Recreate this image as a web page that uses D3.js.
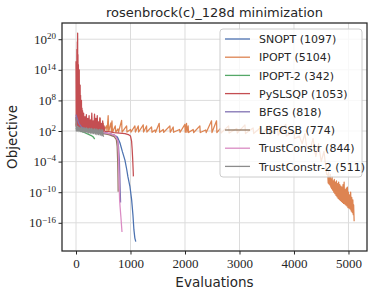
<!DOCTYPE html>
<html>
<head>
<meta charset="utf-8">
<script src="https://cdn.jsdelivr.net/npm/d3@7"></script>
<style>
  html, body { margin: 0; padding: 0; background: #fff; }
  #chart { width: 374px; height: 295px; }
  .grid-line { stroke: #dcdcdc; stroke-width: 1; }
</style>
</head>
<body>
<div id="chart"></div>
<script>
// values: [evaluations, log10(objective)]
const snopt = [[0,4.8],[10,4.0],[30,3.2],[60,2.6],[100,2.3],[200,2.0],[300,1.9],[400,1.8],[500,1.7],[600,1.5],[700,1.2],[760,0.8],[806,-0.3],[850,-2.0],[898,-3.7],[930,-5.5],[953,-7.0],[990,-8.9],[1021,-11.5],[1045,-14.5],[1063,-17.4],[1080,-19.0],[1097,-19.7]];

const ipopt = [[0,3.5],[20,2.2],[60,2.5],[100,2.0],[150,2.6],[200,2.0],[250,2.4],[300,1.9],[350,2.8],[400,2.0],[440,4.5],[450,2.0],[500,3.5],[510,2.0],[560,3.0],[570,1.9],[590,5.0],[600,1.9],[640,3.6],[650,1.9],[660,4.0],[670,1.8],[720,3.0],[730,1.8],[770,2.4],[780,1.8],[837,4.1],[845,1.8],[929,3.0],[935,1.8],[1000,2.3],[1010,1.8],[1081,3.0],[1090,1.8],[1142,3.0],[1150,1.8],[1234,3.2],[1240,1.8],[1295,3.0],[1300,1.8],[1386,2.8],[1395,1.75],[1450,2.2],[1460,1.75],[1527,3.5],[1535,1.75],[1600,2.3],[1610,1.75],[1723,3.0],[1730,1.75],[1784,2.8],[1790,1.75],[1900,2.3],[1910,1.75],[1998,3.3],[2005,1.75],[2028,3.5],[2035,1.75],[2058,3.0],[2065,1.7],[2150,2.3],[2160,1.7],[2273,3.0],[2280,1.7],[2380,2.2],[2390,1.7],[2487,4.0],[2495,1.7],[2579,4.0],[2585,1.7],[2650,2.5],[2660,1.6],[2800,3.0],[2810,1.6],[2950,2.5],[2960,1.6],[3100,3.2],[3110,1.5],[3250,2.6],[3260,1.5],[3400,2.8],[3410,1.4],[3550,3.0],[3560,1.3],[3700,2.5],[3710,1.2],[3850,3.3],[3860,1.0],[4000,2.0],[4010,0.5],[4100,1.0],[4150,-0.5],[4200,1.5],[4230,-1.0],[4300,-1.5],[4350,0.5],[4400,-3.0],[4450,-0.5],[4500,-4.0],[4550,-2.0],[4600,-6.5],[4620,-6.5],[4628,-8.2],[4636,-6.0],[4644,-8.4],[4652,-7.0],[4660,-8.6],[4668,-6.5],[4676,-9.0],[4684,-7.5],[4692,-9.3],[4700,-7.0],[4710,-9.6],[4720,-7.8],[4730,-10.0],[4740,-7.5],[4750,-10.3],[4760,-8.0],[4770,-10.6],[4780,-7.8],[4790,-10.9],[4800,-8.3],[4810,-11.2],[4820,-8.0],[4830,-11.4],[4840,-8.5],[4850,-11.6],[4860,-8.8],[4870,-11.8],[4880,-9.0],[4890,-12.0],[4900,-8.5],[4910,-12.2],[4920,-8.0],[4930,-12.3],[4940,-9.5],[4950,-12.5],[4960,-9.2],[4970,-12.7],[4980,-9.0],[4990,-13.0],[5000,-10.0],[5010,-13.1],[5020,-10.5],[5030,-13.3],[5040,-10.0],[5050,-13.7],[5060,-11.0],[5070,-14.0],[5080,-11.5],[5088,-14.4],[5095,-12.5],[5104,-15.7]];

const ipopt2 = [[0,2.6],[30,2.3],[80,2.0],[150,1.7],[220,1.4],[280,1.1],[320,0.8],[342,0.4]];

const pyslsqp = [[0,15.7],[4,3.0],[8,14],[12,3.0],[16,18],[20,3.0],[25,19.5],[28,3.5],[30,21.2],[33,3.0],[36,17],[40,3.0],[44,15],[48,3.0],[52,13],[56,2.8],[60,14],[64,2.6],[68,10],[72,2.6],[76,11],[80,2.5],[84,9],[88,2.4],[92,8],[96,2.4],[100,8],[104,2.3],[110,6.5],[115,2.3],[120,6.0],[130,2.5],[140,5.5],[150,2.3],[165,4.8],[175,2.2],[190,5.2],[200,2.2],[215,4.5],[225,2.1],[240,5.0],[250,2.0],[265,4.2],[275,2.1],[290,5.5],[300,2.0],[315,4.0],[325,2.0],[340,5.3],[350,2.0],[365,4.5],[375,1.9],[390,5.0],[400,1.9],[415,3.8],[425,1.9],[440,4.6],[450,1.9],[465,3.5],[475,1.9],[490,4.0],[500,1.9],[515,3.0],[530,1.9],[600,1.9],[700,1.7],[800,1.6],[900,1.5],[960,1.3],[1000,1.0],[1020,0.0],[1030,-1.5],[1040,-3.5],[1050,-6.0],[1053,-6.9]];

const bfgs = [[0,5.2],[20,4.5],[50,3.5],[100,2.8],[165,2.4],[250,2.1],[350,1.9],[450,1.8],[550,1.6],[650,1.4],[720,1.1],[760,0.5],[780,-1.0],[795,-3.5],[805,-7],[812,-10],[818,-12]];

const lbfgsb = [[0,2.5],[50,2.2],[150,2.0],[300,1.8],[450,1.6],[600,1.3],[700,0.9],[740,0.3],[755,-1.0],[765,-4],[770,-7],[774,-9.9]];

const trustConstr = [[0,3.0],[50,2.4],[150,2.1],[300,1.9],[500,1.7],[650,1.4],[720,1.1],[770,0.0],[780,-3],[790,-8],[800,-11.5],[810,-13],[825,-15],[835,-16.5],[844,-17.8]];

const trustConstr2 = [[0,4.5],[5,2.0],[15,3.0],[25,2.0],[40,2.8],[55,1.9],[70,2.7],[85,1.9],[100,2.7],[115,1.8],[130,2.6],[145,1.8],[160,2.6],[175,1.7],[190,2.6],[205,1.7],[220,2.5],[235,1.6],[250,2.5],[265,1.6],[280,2.5],[295,1.5],[310,2.4],[325,1.5],[340,2.4],[355,1.4],[370,2.4],[385,1.3],[400,2.3],[415,1.3],[430,2.3],[445,1.2],[460,2.3],[475,1.1],[490,2.2],[500,1.0],[511,0.9]];

const seriesNames = ["SNOPT (1097)", "IPOPT (5104)", "IPOPT-2 (342)", "PySLSQP (1053)", "BFGS (818)", "LBFGSB (774)", "TrustConstr (844)", "TrustConstr-2 (511)"];
const seriesData = [snopt, ipopt, ipopt2, pyslsqp, bfgs, lbfgsb, trustConstr, trustConstr2];
const colors = ["#4c72b0", "#dd8452", "#55a868", "#c44e52", "#8172b3", "#937860", "#da8bc3", "#8c8c8c"];

const xTicks = [0, 1000, 2000, 3000, 4000, 5000];
const yTickExps = [-16, -10, -4, 2, 8, 14, 20];

const W = 374, H = 295;
const plot = { left: 62, right: 367, top: 23, bottom: 251 };

const svg = d3.select("#chart").append("svg")
  .attr("width", W)
  .attr("height", H)
  .attr("viewBox", `0 0 ${W} ${H}`);

const x = d3.scaleLinear().domain([-257, 5340]).range([plot.left, plot.right]);
const y = d3.scaleLog().domain([Math.pow(10, -21.53), Math.pow(10, 23.18)]).range([plot.bottom, plot.top]);

// grid
svg.append("g").selectAll("line")
  .data(xTicks).enter().append("line")
  .attr("class", "grid-line")
  .attr("x1", d => x(d)).attr("x2", d => x(d))
  .attr("y1", plot.top).attr("y2", plot.bottom);

svg.append("g").selectAll("line")
  .data(yTickExps).enter().append("line")
  .attr("class", "grid-line")
  .attr("x1", plot.left).attr("x2", plot.right)
  .attr("y1", d => y(Math.pow(10, d))).attr("y2", d => y(Math.pow(10, d)));

// series
svg.append("defs").append("clipPath").attr("id", "clip")
  .append("rect")
  .attr("x", plot.left).attr("y", plot.top)
  .attr("width", plot.right - plot.left).attr("height", plot.bottom - plot.top);

const line = d3.line()
  .x(d => x(d[0]))
  .y(d => y(Math.pow(10, d[1])));

const lines = svg.append("g").attr("clip-path", "url(#clip)");
seriesData.forEach((data, i) => {
  lines.append("path")
    .datum(data)
    .attr("d", line)
    .attr("fill", "none")
    .attr("stroke", colors[i])
    .attr("stroke-width", 1.25)
    .attr("stroke-linejoin", "round");
});

// axes
const tickFont = "'Liberation Serif', 'DejaVu Serif', serif";

const xAxis = svg.append("g")
  .attr("transform", `translate(0, ${plot.bottom})`)
  .call(d3.axisBottom(x).tickValues(xTicks).tickSize(3.5).tickPadding(4).tickFormat(d3.format("d")));
xAxis.select(".domain").remove();
xAxis.selectAll(".tick line").attr("stroke", "#262626").attr("stroke-width", 1);
xAxis.selectAll("text")
  .style("font-family", tickFont)
  .style("font-size", "13px")
  .attr("fill", "#262626");

const yAxis = svg.append("g")
  .attr("transform", `translate(${plot.left}, 0)`)
  .call(d3.axisLeft(y).tickValues(yTickExps.map(e => Math.pow(10, e))).tickSize(3.5).tickPadding(4).tickFormat(""));
yAxis.select(".domain").remove();
yAxis.selectAll(".tick line").attr("stroke", "#262626").attr("stroke-width", 1);
yAxis.selectAll(".tick").each(function(d) {
  const e = Math.round(Math.log10(d));
  const t = d3.select(this).select("text")
    .attr("x", -6)
    .attr("dy", "0.32em")
    .attr("text-anchor", "end")
    .style("font-family", tickFont)
    .style("font-size", "13px")
    .attr("fill", "#262626");
  t.append("tspan").text("10");
  t.append("tspan")
    .attr("dy", "-0.55em")
    .style("font-size", "9px")
    .text(String(e).replace("-", "\u2212"));
});

// frame
svg.append("rect")
  .attr("x", plot.left).attr("y", plot.top)
  .attr("width", plot.right - plot.left).attr("height", plot.bottom - plot.top)
  .attr("fill", "none")
  .attr("stroke", "#262626")
  .attr("stroke-width", 1.25);

// labels
const labelFont = "'DejaVu Sans', sans-serif";
svg.append("text")
  .attr("x", (plot.left + plot.right) / 2)
  .attr("y", 17)
  .attr("text-anchor", "middle")
  .style("font-family", labelFont)
  .style("font-size", "13px")
  .attr("fill", "#262626")
  .text("rosenbrock(c)_128d minimization");

svg.append("text")
  .attr("x", (plot.left + plot.right) / 2)
  .attr("y", 287)
  .attr("text-anchor", "middle")
  .style("font-family", labelFont)
  .style("font-size", "13.5px")
  .attr("fill", "#262626")
  .text("Evaluations");

svg.append("text")
  .attr("transform", `translate(17, ${(plot.top + plot.bottom) / 2}) rotate(-90)`)
  .attr("text-anchor", "middle")
  .style("font-family", labelFont)
  .style("font-size", "13.5px")
  .attr("fill", "#262626")
  .text("Objective");

// legend
const legend = svg.append("g").attr("transform", "translate(220, 29)");
legend.append("rect")
  .attr("width", 142).attr("height", 148)
  .attr("rx", 3)
  .attr("fill", "#ffffff")
  .attr("fill-opacity", 0.8)
  .attr("stroke", "#cccccc")
  .attr("stroke-width", 1);

seriesNames.forEach((name, i) => {
  const row = legend.append("g").attr("transform", `translate(0, ${10 + i * 18.2})`);
  row.append("line")
    .attr("x1", 5).attr("x2", 30)
    .attr("y1", 0).attr("y2", 0)
    .attr("stroke", colors[i])
    .attr("stroke-width", 1.3);
  row.append("text")
    .attr("x", 39)
    .attr("y", 4.2)
    .style("font-family", labelFont)
    .style("font-size", "11px")
    .attr("fill", "#262626")
    .text(name);
});
</script>
</body>
</html>
